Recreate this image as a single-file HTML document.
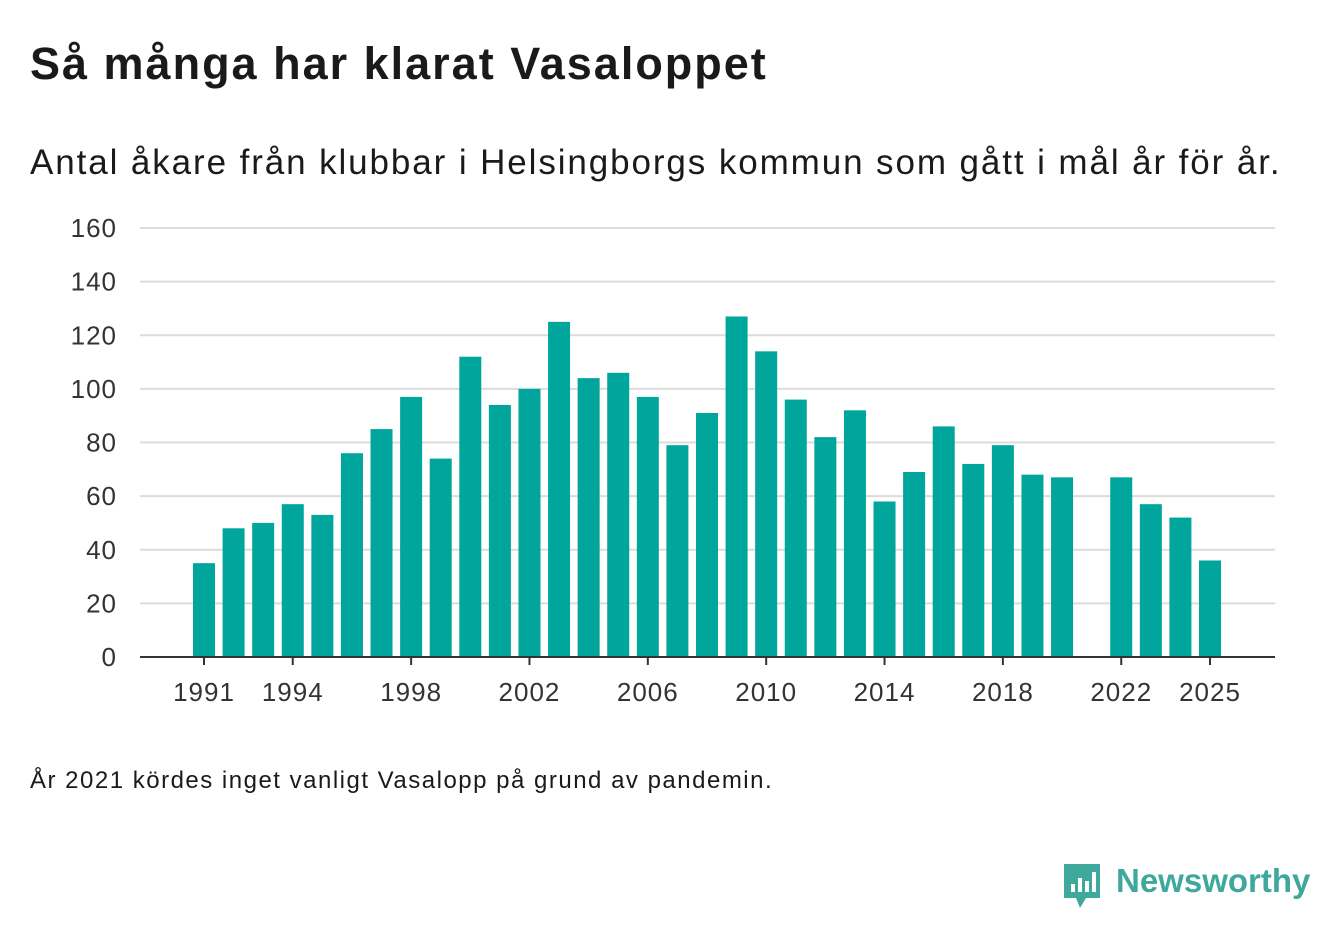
<!DOCTYPE html>
<html><head><meta charset="utf-8">
<style>
body{margin:0;width:1340px;height:940px;background:#fff;font-family:"Liberation Sans",sans-serif;color:#1a1a1a;position:relative;overflow:hidden}
.t{position:absolute;white-space:nowrap}
</style></head><body>
<div class="t" style="left:30px;top:38px;font-size:45px;font-weight:bold;letter-spacing:2px">Så många har klarat Vasaloppet</div>
<div class="t" style="left:30px;top:143px;font-size:35px;letter-spacing:1.9px">Antal åkare från klubbar i Helsingborgs kommun som gått i mål år för år.</div>
<svg id="chart" width="1340" height="740" style="position:absolute;left:0;top:0"></svg>
<div class="t" style="left:30px;top:767px;font-size:24px;letter-spacing:1.5px">År 2021 kördes inget vanligt Vasalopp på grund av pandemin.</div>
<div style="position:absolute;left:1062px;top:862px;width:250px;height:50px">
<svg width="40" height="48" style="position:absolute;left:0;top:0"><path d="M2 2h36v34H24l-6 10-4-10H2z" fill="#3fa89c"/><rect x="9" y="22" width="4" height="8" fill="#fff"/><rect x="16" y="16" width="4" height="14" fill="#fff"/><rect x="23" y="19" width="4" height="11" fill="#fff"/><rect x="30" y="10" width="4" height="20" fill="#fff"/></svg>
<div class="t" style="left:54px;top:0px;font-size:33px;font-weight:bold;color:#3fa89c">Newsworthy</div>
</div>
<script>
const years=[1991,1992,1993,1994,1995,1996,1997,1998,1999,2000,2001,2002,2003,2004,2005,2006,2007,2008,2009,2010,2011,2012,2013,2014,2015,2016,2017,2018,2019,2020,2021,2022,2023,2024,2025];
const values=[35,48,50,57,53,76,85,97,74,112,94,100,125,104,106,97,79,91,127,114,96,82,92,58,69,86,72,79,68,67,null,67,57,52,36];
const yTicks=[0,20,40,60,80,100,120,140,160];
const xTicks=[1991,1994,1998,2002,2006,2010,2014,2018,2022,2025];
const NS="http://www.w3.org/2000/svg";
const svg=document.getElementById('chart');
const y=v=>657-v*(657-228)/160;
const x=yr=>204+(yr-1991)*(1210-204)/34;
function mk(t,a){const e=document.createElementNS(NS,t);for(const k in a)e.setAttribute(k,a[k]);svg.appendChild(e);return e;}
yTicks.forEach(v=>{
 if(v>0){const g=mk('line',{x1:140,x2:1275,y1:y(v),y2:y(v),stroke:'#dcdcdc','stroke-width':2});
 
 }
 const t=mk('text',{x:117,y:y(v)+9,'text-anchor':'end','font-size':26,'letter-spacing':1,fill:'#333','font-family':'Liberation Sans, sans-serif'});
 t.textContent=v;
 
 
});
years.forEach((yr,i)=>{
 const v=values[i];if(v==null)return;
 const r=mk('rect',{x:x(yr)-11,y:y(v),width:22,height:y(0)-y(v),fill:'#00a59b'});
 
 
});
const ax=mk('line',{x1:140,x2:1275,y1:657,y2:657,stroke:'#333','stroke-width':2});


xTicks.forEach(yr=>{
 const tk=mk('line',{x1:x(yr),x2:x(yr),y1:657,y2:665,stroke:'#333','stroke-width':2});
 
 
 const t=mk('text',{x:x(yr),y:701,'text-anchor':'middle','font-size':26,'letter-spacing':1,fill:'#333','font-family':'Liberation Sans, sans-serif'});
 t.textContent=yr;
 
 
});
</script>
</body></html>
